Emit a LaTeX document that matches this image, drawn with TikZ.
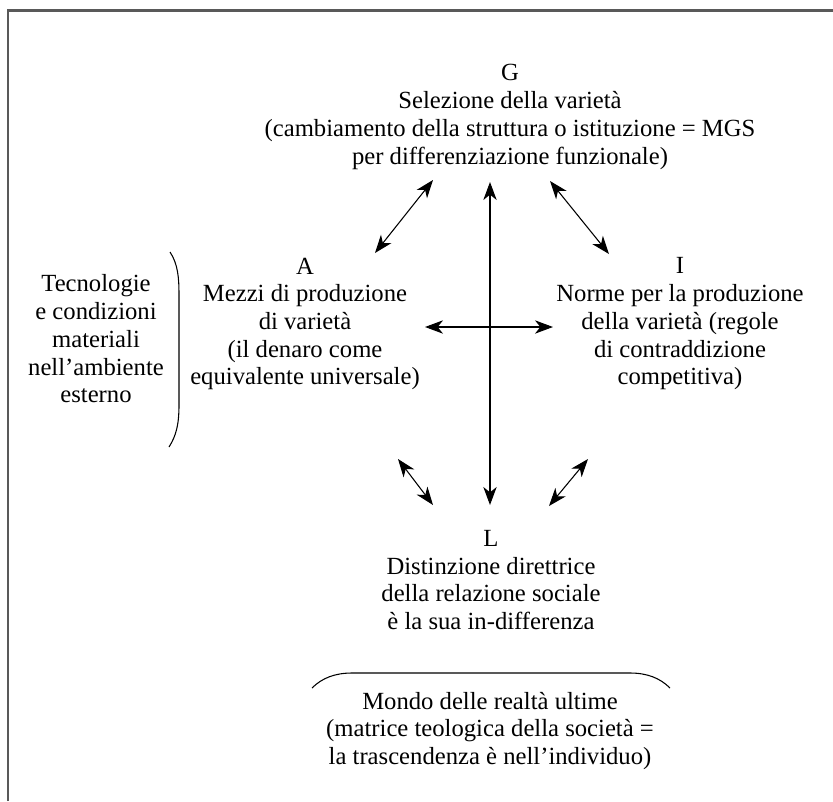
\documentclass[tikz,border=0pt]{standalone}
\usepackage{fontspec}
\setmainfont{Liberation Serif}
\usetikzlibrary{arrows.meta}
\begin{document}
\begin{tikzpicture}[x=0.75pt,y=-0.75pt,
  txt/.style={align=center,inner sep=0pt,font=\fontsize{18.5}{20.8}\selectfont},
  link/.style={line width=0.8pt,{Stealth[length=13.5pt,width=10pt,inset=4pt]}-{Stealth[length=13.5pt,width=10pt,inset=4pt]}},
  brace/.style={line width=0.8pt},
  frame/.style={line width=1.6pt,draw=black!65}]
\useasboundingbox (0,0) rectangle (833,801);
\draw[frame] (8,801) -- (8,10.5) -- (833,10.5);

% the four functions
\node[txt] (G) at (510,117) {G\\Selezione della variet\`a\\(cambiamento della struttura o istituzione = MGS\\per differenziazione funzionale)};
\node[txt] (A) at (305,324) {A\\Mezzi di produzione\\di variet\`a\\(il denaro come\\equivalente universale)};
\node[txt] (I) at (680,324) {I\\Norme per la produzione\\della variet\`a (regole\\di contraddizione\\competitiva)};
\node[txt] (L) at (491,580) {L\\Distinzione direttrice\\della relazione sociale\\\`e la sua in-differenza};

% side and bottom notes
\node[txt] (tech) at (96,339) {Tecnologie\\e condizioni\\materiali\\nell'ambiente\\esterno};
\node[txt] (world) at (490,731) {Mondo delle realt\`a ultime\\(matrice teologica della societ\`a =\\la trascendenza \`e nell'individuo)};

% brackets
\draw[brace] (170,252) .. controls (178,264) and (179,278) .. (179,295) -- (179,405) .. controls (179,425) and (176,436) .. (169,447);
\draw[brace] (312,688) .. controls (322,678) and (335,673) .. (352,673) -- (630,673) .. controls (647,673) and (660,678) .. (670,688);

% arrow end points
\coordinate (gl) at (433,180);
\coordinate (al) at (375,253);
\coordinate (gr) at (550,181);
\coordinate (ir) at (609,254);
\coordinate (gt) at (490,182);
\coordinate (lb) at (490,505);
\coordinate (ah) at (425,327);
\coordinate (ih) at (553,327);
\coordinate (ab) at (398,459);
\coordinate (la) at (433,505);
\coordinate (ib) at (588,459);
\coordinate (li) at (549,506);

\draw[link] (gl) -- (al);
\draw[link] (gr) -- (ir);
\draw[link] (gt) -- (lb);
\draw[link] (ah) -- (ih);
\draw[link] (ab) -- (la);
\draw[link] (ib) -- (li);
\end{tikzpicture}
\end{document}
